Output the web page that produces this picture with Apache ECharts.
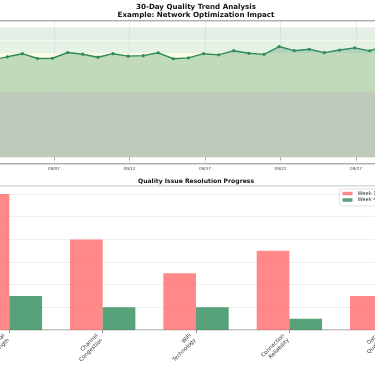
<!DOCTYPE html>
<html>
<head>
<meta charset="utf-8">
<script src="https://cdn.jsdelivr.net/npm/echarts@6/dist/echarts.min.js"></script>
<style>
html,body{margin:0;padding:0;background:#ffffff;}
#chart{width:375px;height:366px;}
</style>
</head>
<body>
<div id="chart"></div>
<script>
// ---------- data ----------
const trendDates = ['09/02','09/03','09/04','09/05','09/06','09/07','09/08','09/09','09/10','09/11',
  '09/12','09/13','09/14','09/15','09/16','09/17','09/18','09/19','09/20','09/21',
  '09/22','09/23','09/24','09/25','09/26','09/27','09/28'];
const qualityScores = [74.8, 77.3, 79.7, 76.0, 76.2, 80.6, 79.3, 77.0, 79.7, 77.8,
  78.2, 80.4, 75.8, 76.5, 79.7, 78.8, 82.0, 80.0, 79.2, 85.2,
  82.0, 83.1, 80.5, 82.5, 84.2, 81.9, 85.8];
const sampleTimeOfDay = 0.907;          // fraction of a day at which each sample was taken
const trendTickLabels = ['09/07','09/12','09/17','09/22','09/27'];
const bandLower = [0, 50, 80, 90];
const bandUpper = [50, 80, 90, 100];
const bandColors = ['#ffe6e6', '#fffde6', '#e6f2e6', '#e5efe5'];

const issueCategories = ['Signal\nStrength', 'Channel\nCongestion', 'WiFi\nTechnology', 'Connection\nReliability', 'Data\nQuality'];
const week1Issues = [12, 8, 5, 7, 3];
const week4Issues = [3, 2, 2, 1, 1];
const seriesNames = ['Week 1', 'Week 4'];

// ---------- derived ----------
const dayOf = s => +s.split('/')[1];
const trendPoints = trendDates.map((d, i) => [dayOf(d) + sampleTimeOfDay, qualityScores[i]]);
const tickDays = trendTickLabels.map(dayOf);
const xMin = 3.0927, xMax = 28.5897;

const font = 'DejaVu Sans';
const green = '#2E8B57';

const chart = echarts.init(document.getElementById('chart'), null, {renderer: 'canvas'});
chart.setOption({
  animation: false,
  textStyle: {fontFamily: font},
  title: [
    {
      text: '30-Day Quality Trend Analysis\nExample: Network Optimization Impact',
      left: 196, top: 2.6, textAlign: 'center', padding: 0,
      textStyle: {fontSize: 7.1, fontWeight: 'bold', lineHeight: 8.2, color: '#111', fontFamily: font}
    },
    {
      text: 'Quality Issue Resolution Progress',
      left: 196, top: 177.8, textAlign: 'center', padding: 0,
      textStyle: {fontSize: 6.1, fontWeight: 'bold', lineHeight: 7, color: '#111', fontFamily: font}
    }
  ],
  legend: {
    data: seriesNames,
    orient: 'vertical',
    left: 339.5, top: 189,
    itemWidth: 10, itemHeight: 3.5, itemGap: 1.5,
    icon: 'rect',
    padding: [2, 3, 3.5, 3],
    backgroundColor: 'rgba(255,255,255,0.8)',
    borderColor: '#d5d5d5', borderWidth: 0.7, borderRadius: 2,
    textStyle: {fontSize: 5.2, color: '#333', fontFamily: font}
  },
  grid: [
    {left: -5, width: 385, top: 20.8, height: 143, show: true, borderColor: '#8a8a8a', borderWidth: 1,
     backgroundColor: 'transparent', containLabel: false, outerBoundsMode: 'none'},
    {left: -37.3, width: 466.67, top: 185.7, height: 144.3, show: true, borderColor: '#8a8a8a', borderWidth: 1,
     backgroundColor: 'transparent', containLabel: false, outerBoundsMode: 'none'}
  ],
  xAxis: [
    {
      gridIndex: 0, type: 'value', min: xMin, max: xMax,
      axisLine: {show: false},
      splitLine: {show: false},
      axisTick: {show: true, customValues: tickDays, length: 3, lineStyle: {color: '#777', width: 0.8}},
      axisLabel: {
        customValues: tickDays, margin: 3, fontSize: 4.2, color: '#444', fontFamily: font,
        formatter: v => { const k = tickDays.indexOf(Math.round(v)); return k >= 0 ? trendTickLabels[k] : ''; }
      }
    },
    {
      gridIndex: 1, type: 'category', data: issueCategories, boundaryGap: true,
      axisLine: {show: false},
      axisTick: {show: true, alignWithLabel: true, length: 3, lineStyle: {color: '#777', width: 0.8}},
      axisLabel: {interval: 0, rotate: 45, fontSize: 5.4, lineHeight: 6.4, color: '#333', margin: 3.7, padding: [0, 4.7, 0, 0], fontFamily: font}
    }
  ],
  yAxis: [
    {gridIndex: 0, type: 'value', min: -5, max: 105, show: false},
    {
      gridIndex: 1, type: 'value', min: 0, max: 12.74, interval: 2,
      axisLine: {show: false}, axisTick: {show: false}, axisLabel: {show: false},
      splitLine: {show: true, lineStyle: {color: '#ebebeb', width: 0.8}}
    }
  ],
  series: [
    {
      type: 'line', xAxisIndex: 0, yAxisIndex: 0, data: trendPoints,
      symbol: 'none', lineStyle: {width: 0}, silent: true, z: 2,
      areaStyle: {color: green, opacity: 0.3},
      markArea: {
        silent: true, z: 1,
        data: bandLower.map((lo, i) => [
          {yAxis: lo, itemStyle: {color: bandColors[i], opacity: 1}},
          {yAxis: bandUpper[i]}
        ])
      },
      markLine: {
        silent: true, z: 3, symbol: 'none', label: {show: false},
        lineStyle: {type: 'solid', color: 'rgba(200,200,200,0.45)', width: 0.8},
        data: tickDays.map(d => ({xAxis: d})).concat([
          {yAxis: bandLower[3], lineStyle: {type: 'solid', color: 'rgba(255,255,255,0.55)', width: 0.8}}
        ])
      }
    },
    {
      type: 'line', xAxisIndex: 0, yAxisIndex: 0, data: trendPoints, z: 4,
      symbol: 'circle', symbolSize: 3.2, showSymbol: true,
      lineStyle: {color: green, width: 1.4},
      itemStyle: {color: green}
    },
    {
      name: seriesNames[0], type: 'bar', xAxisIndex: 1, yAxisIndex: 1, data: week1Issues,
      barWidth: 32.67, barGap: '0%',
      itemStyle: {color: 'rgba(255,107,107,0.8)'}
    },
    {
      name: seriesNames[1], type: 'bar', xAxisIndex: 1, yAxisIndex: 1, data: week4Issues,
      barWidth: 32.67, barGap: '0%',
      itemStyle: {color: 'rgba(46,139,87,0.8)'}
    }
  ]
});
</script>
</body>
</html>
